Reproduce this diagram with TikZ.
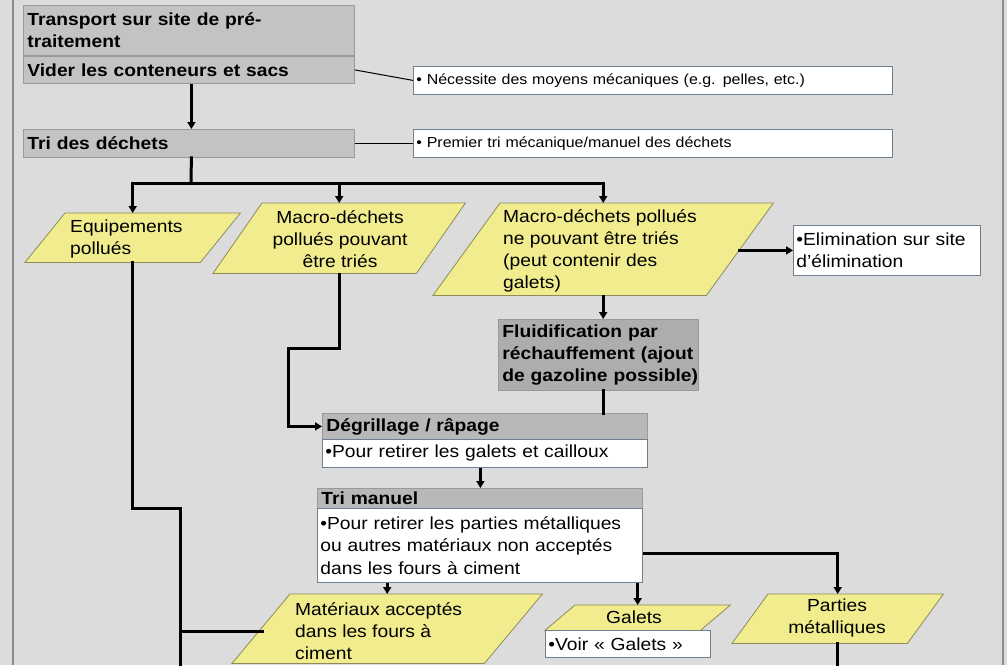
\documentclass[tikz,border=0pt]{standalone}
\usepackage{fontspec}
\setmainfont{Liberation Sans}[FakeStretch=1.1]
\usetikzlibrary{arrows.meta,calc}
\pgfdeclarelayer{back}
\pgfdeclarelayer{shapes}
\pgfsetlayers{back,shapes,main}
\definecolor{bgc}{HTML}{DCDCDC}
\definecolor{framec}{HTML}{8C8C8C}
\definecolor{grayA}{HTML}{C3C3C3}
\definecolor{grayB}{HTML}{ADADAD}
\definecolor{grayC}{HTML}{B8B8B8}
\definecolor{gline}{HTML}{9A9A9A}
\definecolor{wline}{HTML}{6F7F8F}
\definecolor{yfill}{HTML}{F1EC8E}
\definecolor{yline}{HTML}{8C8C5A}
\begin{document}
\begin{tikzpicture}[x=1pt,y=-1pt,
  gbox/.style={rectangle, draw=gline, line width=0.8pt, anchor=north west, inner xsep=4pt, inner ysep=0pt, align=left, font=\bfseries\fontsize{17.5}{22}\selectfont},
  wbox/.style={rectangle, draw=wline, fill=white, line width=0.8pt, anchor=north west, inner xsep=3pt, inner ysep=0pt, align=left, font=\fontsize{17.5}{22.5}\selectfont},
  nbox/.style={wbox, font=\fontsize{14.5}{18}\selectfont},
  pshape/.style={rectangle, draw=none, inner sep=0pt, anchor=north west},
  ptext/.style={inner sep=0pt, align=left, font=\fontsize{17.5}{22}\selectfont},
  conn/.style={line width=3pt, line cap=rect},
  arr/.style={line width=3pt, -{Triangle[length=7pt,width=8pt]}},
  thinl/.style={line width=1pt},
]
\useasboundingbox (0,0) rectangle (1007,665);
\begin{pgfonlayer}{back}
  \fill[bgc] (0,0) rectangle (1007,665);
  \draw[framec, line width=2pt] (13,0) -- (13,665);
  \draw[framec, line width=2pt] (1003,0) -- (1003,665);
\end{pgfonlayer}

% top gray boxes
\node[gbox, fill=grayA, text width=323pt, minimum height=50pt] (trans) at (23,5) {Transport sur site de pré-\\traitement};
\node[gbox, fill=grayA, text width=323pt, minimum height=27pt] (vider) at (23,56) {Vider les conteneurs et sacs};
\node[gbox, fill=grayA, text width=323pt, minimum height=28pt] (tri) at (23,129) {Tri des déchets};

% notes
\node[nbox, text width=473pt, minimum height=28pt] (n1) at (413,66) {• Nécessite des moyens mécaniques (e.g. pelles, etc.)};
\node[nbox, text width=473pt, minimum height=28pt] (n2) at (413,129) {• Premier tri mécanique/manuel des déchets};

% parallelogram frames
\node[pshape, minimum width=215pt, minimum height=49pt] (equi) at (25,213) {};
\node[pshape, minimum width=252pt, minimum height=70pt] (p2) at (213,203) {};
\node[pshape, minimum width=340pt, minimum height=92pt] (p3) at (433,203) {};
\node[pshape, minimum width=310pt, minimum height=69pt] (mat) at (232,594) {};
\node[pshape, minimum width=185pt, minimum height=25pt] (gal) at (545,605) {};
\node[pshape, minimum width=211pt, minimum height=49pt] (par) at (732,594) {};

% parallelogram texts
\node[ptext, anchor=west] (equiT) at (70,239) {Equipements\\pollués};
\node[ptext, align=center] (p2T) at (340,239) {Macro-déchets\\pollués pouvant\\être triés};
\node[ptext, anchor=west] (p3T) at (503,251) {Macro-déchets pollués\\ne pouvant être triés\\(peut contenir des\\galets)};
\node[ptext, anchor=west] (matT) at (295,631) {Matériaux acceptés\\dans les fours à\\ciment};
\node[ptext] (galT) at (634,617) {Galets};
\node[ptext, align=center] (parT) at (837,618) {Parties\\métalliques};

% other boxes
\node[wbox, text width=181pt, minimum height=50pt] (elim) at (793,225) {\mbox{•Elimination sur site}\\d’élimination};
\node[gbox, fill=grayB, text width=192pt, minimum height=71pt] (fluid) at (498,319) {\mbox{Fluidification par}\\\mbox{réchauffement (ajout}\\\mbox{de gazoline possible)}};
\node[gbox, fill=grayC, text width=317pt, minimum height=26pt] (dgh) at (322,413) {Dégrillage / râpage};
\node[wbox, text width=319pt, minimum height=28pt] (dgb) at (322,439) {•Pour retirer les galets et cailloux};
\node[gbox, fill=grayC, text width=317pt, minimum height=20pt] (tmh) at (317,488) {Tri manuel};
\node[wbox, text width=319pt, minimum height=74pt] (tmb) at (317,508) {\mbox{•Pour retirer les parties métalliques}\\ou autres matériaux non acceptés\\dans les fours à ciment};
\node[wbox, text width=159pt, minimum height=27pt] (voir) at (545,630) {•Voir « Galets »};

\begin{pgfonlayer}{shapes}
\foreach \n/\s in {equi/40,p2/49,p3/67,mat/58,gal/30,par/36}{
  \filldraw[fill=yfill, draw=yline, line width=0.8pt] (\n.south west) -- ([xshift=-\s]\n.south east) -- (\n.north east) -- ([xshift=\s]\n.north west) -- cycle;
}
\end{pgfonlayer}

% coordinates
\coordinate (split) at (191,183);
\coordinate (k1) at (288,348);
\coordinate (k2) at (180,508);
\coordinate (k3) at (180,665);
\coordinate (k4) at (180,631);
\coordinate (matL) at (262,631);
\coordinate (p3r) at ([xshift=-35]p3.east);
\coordinate (dgx) at ([xshift=-4.5]dgb.south);
\coordinate (tmr) at ([yshift=-8]tmb.east);

% connectors
\draw[thinl] (vider.east) -- (n1.west);
\draw[thinl] (tri.east) -- (n2.west);
\draw[arr] ([xshift=2.5]vider.south) -- ([xshift=2.5]tri.north);
\draw[conn] ([xshift=2.5]tri.south) -- (split);
\draw[arr] (split) -| (equi.north);
\draw[arr] (split) -| (p3.north);
\draw[arr] (split -| p2.north) -- (p2.north);
\draw[arr] (p3r |- elim.west) -- (elim.west);
\draw[arr] (p3.south) -- (p3.south |- fluid.north);
\draw[conn] (p3.south |- fluid.south) -- (p3.south |- dgh.north);
\draw[arr] (p2.south) |- (k1) |- (dgh.west);
\draw[arr] (dgx) -- (dgx |- tmh.north);
\draw[conn] (equi.south) |- (k2) -- (k3);
\draw[conn] (k4) -- (matL);
\draw[arr] (mat.north |- tmb.south) -- (mat.north);
\draw[arr] (gal.north |- tmb.south) -- (gal.north);
\draw[arr] (tmr) -| (par.north);
\draw[conn] (par.south) -- (par.south |- k3);
\end{tikzpicture}
\end{document}
